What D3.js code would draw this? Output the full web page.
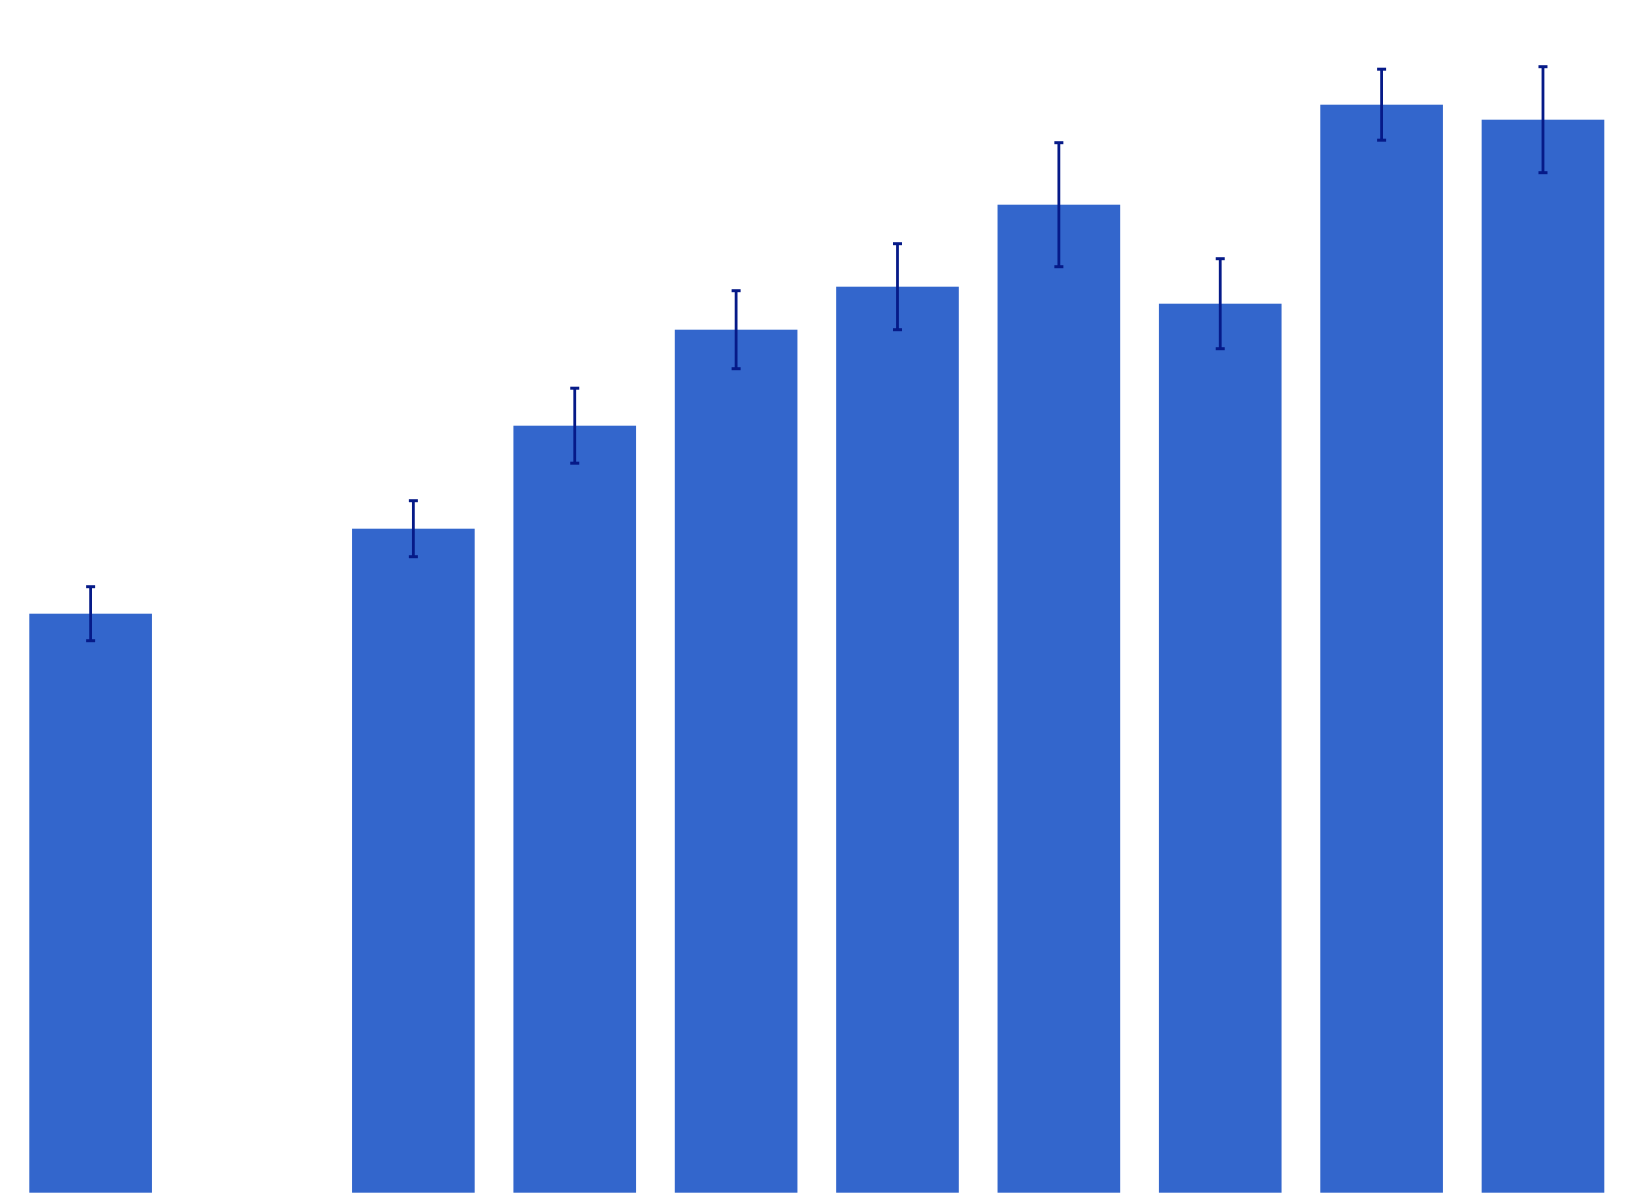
<!DOCTYPE html>
<html>
<head>
<meta charset="utf-8">
<script src="https://cdn.jsdelivr.net/npm/d3@7"></script>
<style>
    html, body { margin: 0; padding: 0; background: #ffffff; }
    svg { display: block; }
</style>
</head>
<body>
<div id="chart"></div>
<script>
// chart data
var categories = ['A', 'B', 'C', 'D', 'E', 'F', 'G', 'H', 'I', 'J'];
var values = [5.79, null, 6.64, 7.67, 8.63, 9.06, 9.88, 8.89, 10.88, 10.73];
var errors = [0.27, null, 0.28, 0.375, 0.39, 0.43, 0.62, 0.45, 0.355, 0.53];

var width = 1634;
var height = 1203;
var barColor = '#3366cc';
var errColor = '#061a88';

window.onload = function() {
    render();
};

function render() {
    var svg = d3.select('#chart').append('svg')
        .attr('width', width)
        .attr('height', height);

    var x = d3.scaleBand()
        .domain(categories)
        .range([29.3, 1604.3])
        .paddingInner(0.24)
        .paddingOuter(0);

    var y = d3.scaleLinear()
        .domain([0, 11])
        .range([1192.7, 92.7]);

    var rows = categories.map(function(c, i) {
        return { cat: c, value: values[i], err: errors[i] };
    }).filter(function(d) { return d.value !== null; });

    // bars
    svg.append('g').selectAll('rect')
        .data(rows)
        .enter().append('rect')
        .attr('x', function(d) { return x(d.cat); })
        .attr('y', function(d) { return y(d.value); })
        .attr('width', x.bandwidth())
        .attr('height', function(d) { return y(0) - y(d.value); })
        .attr('fill', barColor);

    // error bars
    var capHalf = 4.5;
    var errs = svg.append('g')
        .attr('stroke', errColor)
        .selectAll('g')
        .data(rows)
        .enter().append('g');

    errs.append('line')
        .attr('x1', function(d) { return x(d.cat) + x.bandwidth() / 2; })
        .attr('x2', function(d) { return x(d.cat) + x.bandwidth() / 2; })
        .attr('y1', function(d) { return y(d.value + d.err); })
        .attr('y2', function(d) { return y(d.value - d.err); })
        .attr('stroke-width', 2.8);

    [1, -1].forEach(function(sign) {
        errs.append('line')
            .attr('x1', function(d) { return x(d.cat) + x.bandwidth() / 2 - capHalf; })
            .attr('x2', function(d) { return x(d.cat) + x.bandwidth() / 2 + capHalf; })
            .attr('y1', function(d) { return y(d.value + sign * d.err); })
            .attr('y2', function(d) { return y(d.value + sign * d.err); })
            .attr('stroke-width', 3);
    });
}
</script>
</body>
</html>
